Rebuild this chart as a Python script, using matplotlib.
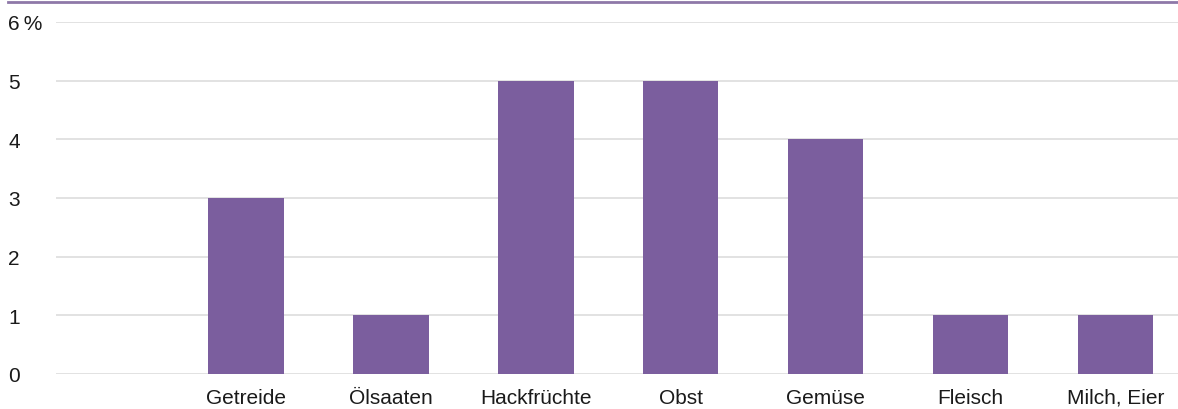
import matplotlib.pyplot as plt
from matplotlib.lines import Line2D

plt.rcParams['font.family'] = ['Liberation Sans', 'DejaVu Sans']

categories = ["", "Getreide", "Ölsaaten", "Hackfrüchte", "Obst", "Gemüse", "Fleisch", "Milch, Eier"]
values = [0, 3, 1, 5, 5, 4, 1, 1]
y_ticks = [0, 1, 2, 3, 4, 5, 6]
y_labels = ["0", "1", "2", "3", "4", "5", "6\u2009%"]

W, H = 1178, 410
fig = plt.figure(figsize=(W / 100, H / 100), dpi=100)
ax = fig.add_axes([56 / W, 1 - 375 / H, 1 - 56 / W, (375 - 23) / H])

x = list(range(len(categories)))
ax.bar(x, values, width=0.52, color='#7B5E9E', zorder=3)

ax.set_xlim(-0.31, 7.43)
ax.set_ylim(0, 6)
ax.set_yticks(y_ticks)
ax.set_yticklabels(y_labels, fontsize=15, color='#1a1a1a')
for lab in ax.get_yticklabels():
    lab.set_horizontalalignment('left')
ax.tick_params(axis='y', length=0, pad=34.5)
ax.set_xticks(x)
ax.set_xticklabels(categories, fontsize=15, color='#1a1a1a')
ax.tick_params(axis='x', length=0, pad=10)

ax.grid(axis='y', color='#DDDDDD', linewidth=1.2, zorder=0)
for s in ax.spines.values():
    s.set_visible(False)

# purple rule across the top
fig.add_artist(Line2D([8 / W, 1], [1 - 3 / H, 1 - 3 / H], color='#8E78A8',
                      linewidth=2, transform=fig.transFigure))

fig.savefig('out.png', dpi=100)
